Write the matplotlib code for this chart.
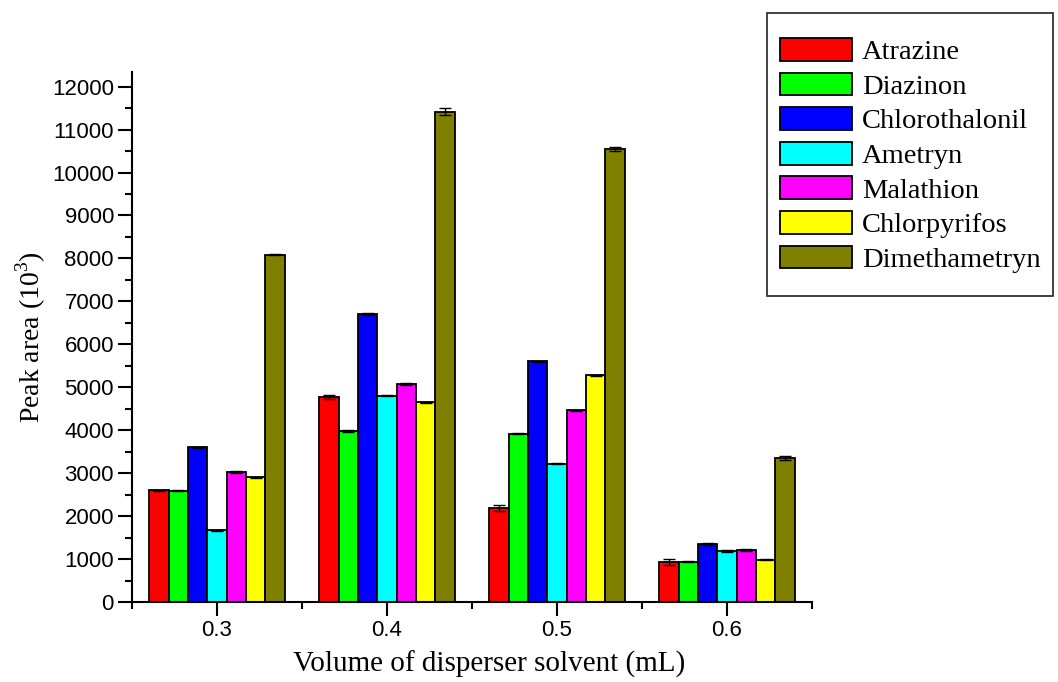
import numpy as np
import matplotlib
matplotlib.use("Agg")
import matplotlib.pyplot as plt
from matplotlib.patches import Rectangle
from matplotlib.ticker import MultipleLocator

plt.rcParams['mathtext.fontset'] = 'custom'
plt.rcParams['mathtext.rm'] = 'Liberation Serif'

# --- данные: объём диспергирующего растворителя (мл) и площади пиков (10^3) ---
volumes = [0.3, 0.4, 0.5, 0.6]
compounds = ['Atrazine', 'Diazinon', 'Chlorothalonil', 'Ametryn',
             'Malathion', 'Chlorpyrifos', 'Dimethametryn']
colors = ['#ff0000', '#00ff00', '#0000ff', '#00ffff',
          '#ff00ff', '#ffff00', '#808000']

atrazine = [2600, 4770, 2200, 930]
diazinon = [2590, 3980, 3920, 940]
chlorothalonil = [3600, 6700, 5600, 1350]
ametryn = [1670, 4800, 3220, 1180]
malathion = [3030, 5070, 4460, 1210]
chlorpyrifos = [2900, 4650, 5280, 980]
dimethametryn = [8090, 11420, 10540, 3350]

atrazine_err = [15, 40, 70, 80]
diazinon_err = [15, 15, 15, 15]
chlorothalonil_err = [20, 20, 20, 25]
ametryn_err = [15, 10, 15, 20]
malathion_err = [15, 25, 20, 20]
chlorpyrifos_err = [10, 15, 10, 10]
dimethametryn_err = [15, 80, 50, 50]

values = [atrazine, diazinon, chlorothalonil, ametryn,
          malathion, chlorpyrifos, dimethametryn]
errors = [atrazine_err, diazinon_err, chlorothalonil_err, ametryn_err,
          malathion_err, chlorpyrifos_err, dimethametryn_err]

W, H = 1058, 682
fig = plt.figure(figsize=(W / 100, H / 100), dpi=100)
ax = fig.add_axes([0.1248, 0.1173, 0.6427, 0.7771])

width = 0.01138
x = np.array(volumes)
handles = []
for i, (name, c, v, e) in enumerate(zip(compounds, colors, values, errors)):
    pos = x + (i - 3) * width
    b = ax.bar(pos, v, width=width, color=c, edgecolor='black',
               linewidth=1.3, label=name, zorder=2)
    ax.errorbar(pos, v, yerr=e, fmt='none', ecolor='black',
                elinewidth=1.0, capsize=4, capthick=1.0, zorder=3)
    handles.append(b)

ax.set_xlim(0.25, 0.65)
ax.set_ylim(0, 12340)
ax.xaxis.set_minor_locator(MultipleLocator(0.05))
ax.yaxis.set_major_locator(MultipleLocator(1000))
ax.yaxis.set_minor_locator(MultipleLocator(500))
ax.set_xticks(volumes)
ax.set_xticklabels(['0.3', '0.4', '0.5', '0.6'])

for s in ['top', 'right']:
    ax.spines[s].set_visible(False)
for s in ['left', 'bottom']:
    ax.spines[s].set_linewidth(1.5)

ax.tick_params(axis='both', which='major', direction='out', length=10,
               width=1.5, labelsize=16, pad=3)
ax.tick_params(axis='both', which='minor', direction='out', length=5,
               width=1.5)
for lab in ax.get_xticklabels() + ax.get_yticklabels():
    lab.set_family('Liberation Sans')

ax.set_xlabel('Volume of disperser solvent (mL)', family='Liberation Serif',
              fontsize=21)
ax.xaxis.set_label_coords(0.525, -0.092)
ax.set_ylabel('Peak area (10$^{3}$)', family='Liberation Serif',
              fontsize=20, labelpad=3)

# рамка легенды рисуется отдельно, чтобы задать поля вручную
fig.patches.append(Rectangle((767 / W, 1 - 296 / H), 286 / W, 283 / H,
                             transform=fig.transFigure, fill=False,
                             edgecolor='#333333', linewidth=1.3))
fig.legend(handles=handles, labels=compounds, loc='upper left',
           bbox_to_anchor=(780 / W, 1 - 38 / H),
           prop={'family': 'Liberation Serif', 'size': 20.5},
           frameon=False, handlelength=2.53, handleheight=0.85,
           handletextpad=0.35, labelspacing=0.26, borderpad=0,
           borderaxespad=0)

fig.savefig('out.png', dpi=100)
